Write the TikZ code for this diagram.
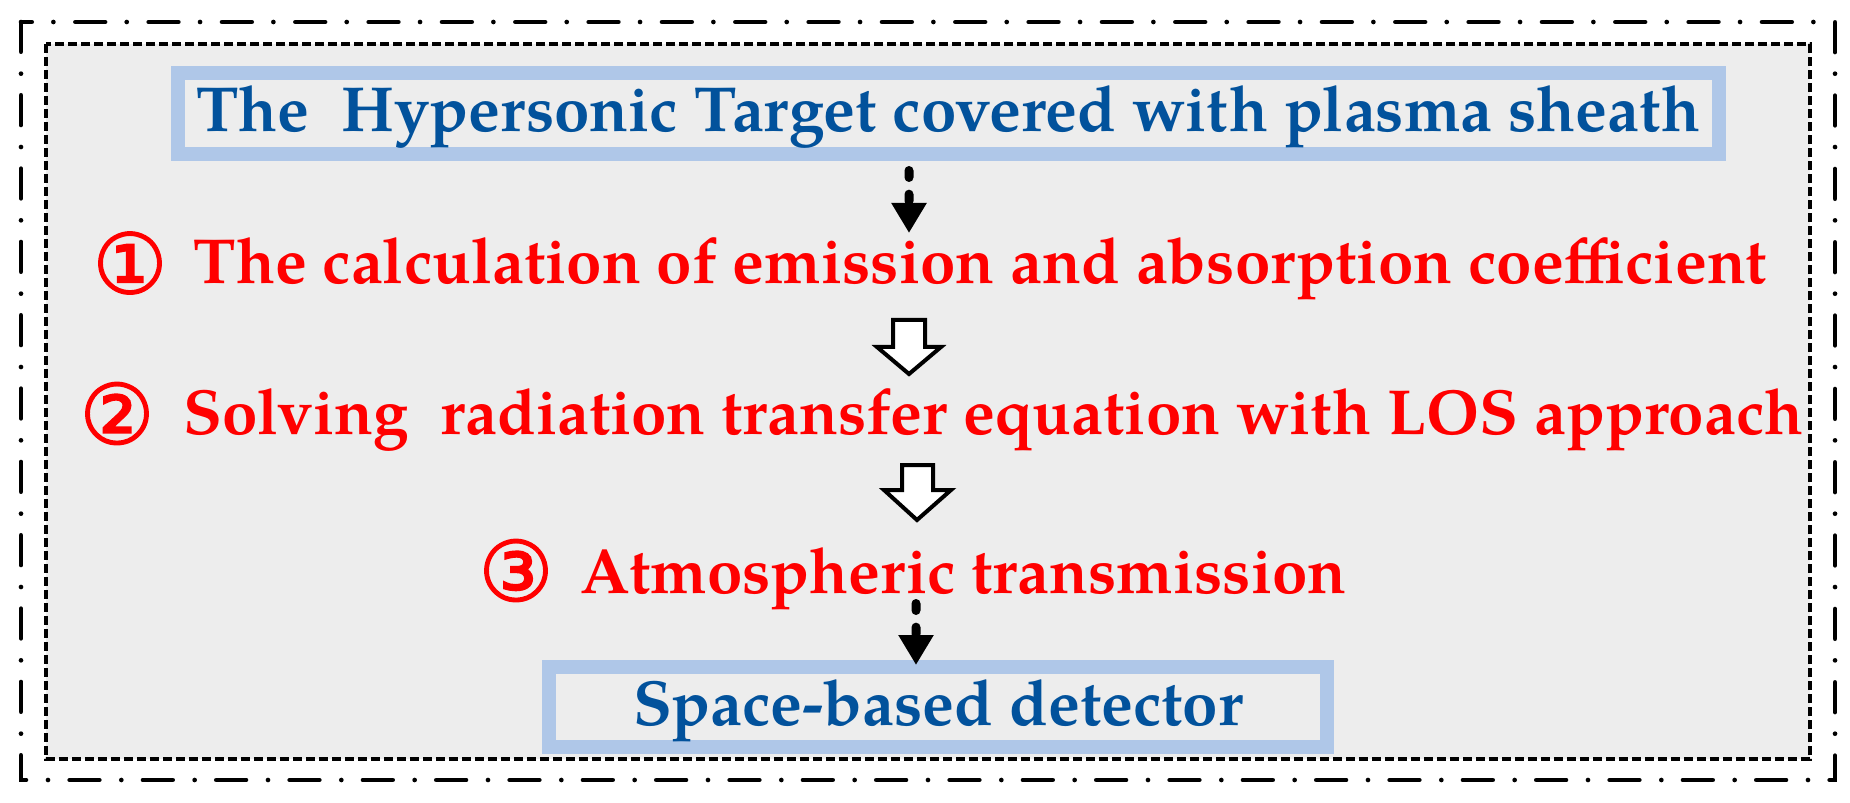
\documentclass[tikz,border=0pt]{standalone}
\usepackage{fontspec}
\usetikzlibrary{arrows.meta}
\newfontfamily\pagb{texgyrepagella-bold.otf}
\newfontfamily\circfont[FakeBold=1.8]{DejaVu Sans}
\definecolor{titleblue}{RGB}{2,82,156}
\definecolor{boxblue}{RGB}{175,199,232}
\definecolor{panelgray}{RGB}{237,237,237}
\definecolor{stepred}{RGB}{255,0,0}
\begin{document}
\begin{tikzpicture}[x=0.3pt,y=-0.3pt,
  outerframe/.style={line width=1.4pt, line cap=round, dash pattern=on 8.9pt off 6.6pt on 0pt off 6.5pt},
  innerframe/.style={line width=1.3pt, dash pattern=on 2.85pt off 1.05pt, fill=panelgray},
  bluebox/.style={draw=boxblue, line width=4.2pt, fill=panelgray, inner sep=0pt, text=titleblue, text height=11.1pt, text depth=0pt},
  titlefont/.style={font=\pagb\fontsize{19.1}{21}\selectfont},
  steptext/.style={text=stepred, font=\pagb\fontsize{19.1}{21}\selectfont, inner sep=0pt, anchor=base west},
  stepnum/.style={text=stepred, font=\circfont\fontsize{25}{27}\selectfont, inner sep=0pt},
  dasharrow/.style={line width=2.7pt, line cap=round, dash pattern=on 2.1pt off 5pt, -{Triangle[length=9pt,width=10pt]}},
  hollowarrow/.style={draw=black, fill=white, line width=1.2pt, miter limit=10}
]
\path[use as bounding box, fill=white] (0,0) rectangle (1850,803);
% frames
\draw[outerframe] (21,22) rectangle (1835,780);
\draw[innerframe] (46,44) rectangle (1810,759);
% boxes
\node[bluebox, titlefont, minimum width=462.3pt, minimum height=24.3pt] (top) at (948.5,113.5)
  {The~ Hypersonic Target covered with plasma sheath};
\node[bluebox, titlefont, minimum width=233.4pt, minimum height=24pt] (det) at (938,707)
  {Space-based detector};
% steps
\node[stepnum] (n1) at (130,263) {①};
\node[steptext] (r1) at (193,284) {The calculation of emission and absorption coefficient};
\node[stepnum] (n2) at (117,413.5) {②};
\node[steptext] (r2) at (183,434) {Solving~ radiation transfer equation with LOS approach};
\node[stepnum] (n3) at (516,570.5) {③};
\node[steptext] (r3) at (580,593) {Atmospheric transmission};
% connectors
\coordinate (tip1) at (909,233);
\coordinate (s2) at (916,603.5);
\draw[dasharrow] ([xshift=-11.85pt,yshift=-2.85pt]top.south) -- (tip1);
\draw[dasharrow] (s2) -- ([xshift=-6.6pt,yshift=-1.5pt]det.north);
\draw[hollowarrow] (893,320) -- (925,320) -- (925,347) -- (941,347) -- (909,374) -- (877,347) -- (893,347) -- cycle;
\draw[hollowarrow] (902,465) -- (933,465) -- (933,490) -- (951,490) -- (917,520) -- (884,490) -- (902,490) -- cycle;
\end{tikzpicture}
\end{document}
